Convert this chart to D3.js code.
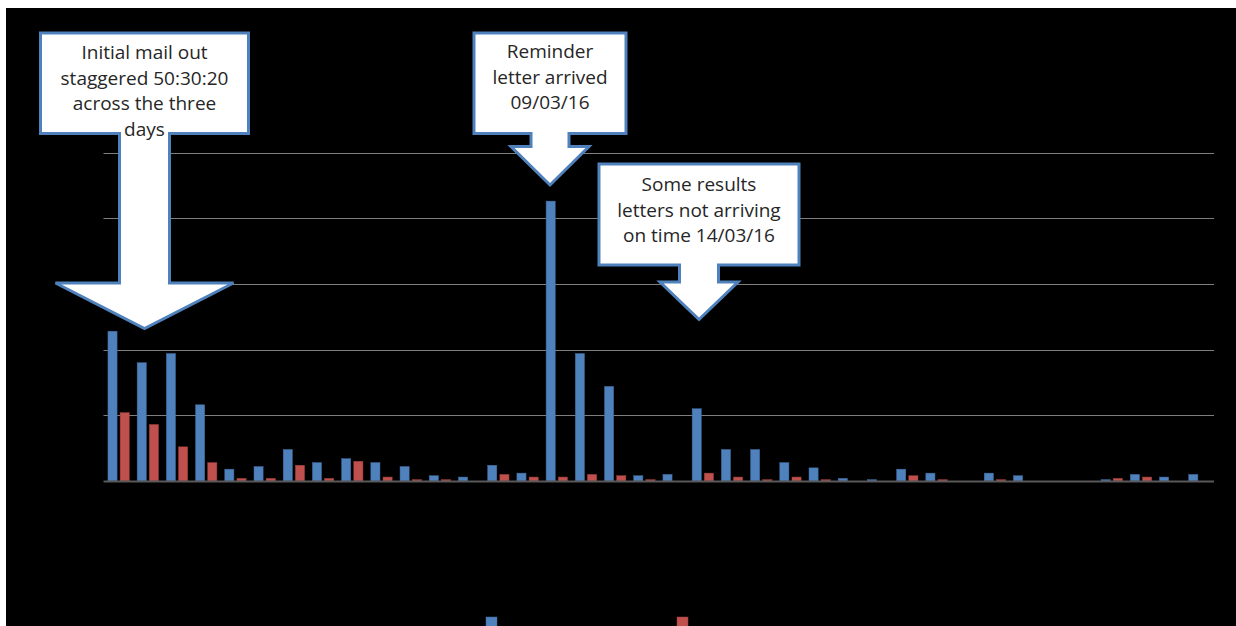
<!DOCTYPE html>
<html lang="en">
<head>
<meta charset="utf-8">
<title>Daily returns</title>
<script src="https://d3js.org/d3.v7.min.js"></script>
<style>
  body { margin: 0; background: #fff; }
  .grid line { stroke: #7f7f7f; stroke-width: 1px; }
  .callout path { fill: #fff; stroke: #4f81bd; stroke-width: 3px; stroke-linejoin: miter; }
  .callout text { font-family: "Open Sans", sans-serif; font-size: 19px; fill: #262626; text-anchor: middle; }
</style>
</head>
<body>
<svg id="chart" width="1236" height="626"></svg>
<script>
// categories (one per day) - labels drawn black on black like the original
const days = ["23/02/16","24/02/16","25/02/16","26/02/16","27/02/16","28/02/16","29/02/16",
  "01/03/16","02/03/16","03/03/16","04/03/16","05/03/16","06/03/16","07/03/16","08/03/16",
  "09/03/16","10/03/16","11/03/16","12/03/16","13/03/16","14/03/16","15/03/16","16/03/16",
  "17/03/16","18/03/16","19/03/16","20/03/16","21/03/16","22/03/16","23/03/16","24/03/16",
  "25/03/16","26/03/16","27/03/16","28/03/16","29/03/16","30/03/16","31/03/16"];
const seriesNames = ["Series1", "Series2"];
const blueVals = [114, 90, 97, 58, 9, 11, 24, 14, 17, 14, 11, 4, 3, 12, 6, 213, 97, 72, 4, 5,
  55, 24, 24, 14, 10, 2, 1, 9, 6, 0, 6, 4, 0, 0, 1, 5, 3, 5];
const redVals = [52, 43, 26, 14, 2, 2, 12, 2, 15, 3, 1, 1, 0, 5, 3, 3, 5, 4, 1, 0,
  6, 3, 1, 3, 1, 0, 0, 4, 1, 0, 1, 0, 0, 0, 2, 3, 0, 0];
const yTicks = [0, 50, 100, 150, 200, 250];

// callout boxes: text lines, box centre / box extents, arrow tip
const notes = [
  {lines: ["Initial mail out", "staggered 50:30:20", "across the three", "days"],
   cx: 144.5, top: 33, bottom: 133.5, half: 104, stem: 25, base: 283, head: 89, tip: 328.5, firstBase: 59},
  {lines: ["Reminder", "letter arrived", "09/03/16"],
   cx: 550, top: 33, bottom: 133.5, half: 76, stem: 19, base: 146.5, head: 39, tip: 185, firstBase: 58},
  {lines: ["Some results", "letters not arriving", "on time 14/03/16"],
   cx: 699, top: 164, bottom: 265, half: 100, stem: 19.5, base: 282, head: 39, tip: 319.5, firstBase: 191}
];

const svg = d3.select("#chart");
const blue = "#4f81bd", red = "#c0504d";

// black chart area
svg.append("rect").attr("x", 6).attr("y", 8).attr("width", 1230).attr("height", 618).attr("fill", "#000");

const x0 = d3.scaleBand().domain(days).range([104, 1214]).paddingInner(0.27).paddingOuter(0.135);
const x1 = d3.scaleBand().domain(seriesNames).range([0, x0.bandwidth()]).paddingInner(0.25);
const y = d3.scaleLinear().domain([0, 250]).range([481, 152.5]);

// gridlines
svg.append("g").attr("class", "grid")
  .selectAll("line").data(yTicks.slice(1)).join("line")
  .attr("x1", 103.5).attr("x2", 1214)
  .attr("y1", d => Math.round(y(d)) + 0.5).attr("y2", d => Math.round(y(d)) + 0.5);

// y labels (black on black as in the original)
svg.append("g").selectAll("text").data(yTicks).join("text")
  .attr("x", 96).attr("y", d => y(d) + 4).attr("text-anchor", "end")
  .attr("font-family", "Open Sans, sans-serif").attr("font-size", 12).attr("fill", "#000")
  .text(d => d);

// bars
const rows = days.map((d, i) => ({day: d, vals: [blueVals[i], redVals[i]]}));
const groups = svg.append("g").selectAll("g").data(rows).join("g")
  .attr("transform", d => `translate(${x0(d.day)},0)`);
groups.selectAll("rect").data(d => d.vals.map((v, k) => ({k, v}))).join("rect")
  .attr("x", d => x1(seriesNames[d.k]))
  .attr("width", x1.bandwidth())
  .attr("y", d => y(d.v))
  .attr("height", d => y(0) - y(d.v))
  .attr("fill", d => d.k === 0 ? blue : red)
  .attr("stroke", d => d.k === 0 ? "#3e6a9e" : "#9c3f3c")
  .attr("stroke-width", 0.5);

// baseline
svg.append("line").attr("x1", 103.5).attr("x2", 1214).attr("y1", 481.5).attr("y2", 481.5)
  .attr("stroke", "#595959").attr("stroke-width", 2);

// category labels (black, rotated)
svg.append("g").selectAll("text").data(days).join("text")
  .attr("transform", d => `translate(${x0(d) + x0.bandwidth() / 2 + 4},${490}) rotate(-90)`)
  .attr("text-anchor", "end")
  .attr("font-family", "Open Sans, sans-serif").attr("font-size", 11).attr("fill", "#000")
  .text(d => d);

// legend
const legend = svg.append("g").selectAll("g").data(seriesNames).join("g")
  .attr("transform", (d, i) => `translate(${i === 0 ? 486 : 677},617)`);
legend.append("rect").attr("width", 11).attr("height", 11)
  .attr("fill", (d, i) => i === 0 ? blue : red)
  .attr("stroke", (d, i) => i === 0 ? "#3e6a9e" : "#9c3f3c").attr("stroke-width", 0.5);
legend.append("text").attr("x", 15).attr("y", 7)
  .attr("font-family", "Open Sans, sans-serif").attr("font-size", 9).attr("fill", "#000")
  .text(d => d);

// down-arrow callouts
const callouts = svg.append("g").selectAll("g").data(notes).join("g").attr("class", "callout");
callouts.append("path").attr("d", n => {
  const p = d3.path();
  p.moveTo(n.cx - n.half, n.top);
  p.lineTo(n.cx + n.half, n.top);
  p.lineTo(n.cx + n.half, n.bottom);
  p.lineTo(n.cx + n.stem, n.bottom);
  p.lineTo(n.cx + n.stem, n.base);
  p.lineTo(n.cx + n.head, n.base);
  p.lineTo(n.cx, n.tip);
  p.lineTo(n.cx - n.head, n.base);
  p.lineTo(n.cx - n.stem, n.base);
  p.lineTo(n.cx - n.stem, n.bottom);
  p.lineTo(n.cx - n.half, n.bottom);
  p.closePath();
  return p.toString();
});
callouts.each(function(n) {
  d3.select(this).selectAll("text").data(n.lines).join("text")
    .attr("x", n.cx).attr("y", (l, i) => n.firstBase + i * 25.5)
    .text(l => l);
});
</script>
</body>
</html>
